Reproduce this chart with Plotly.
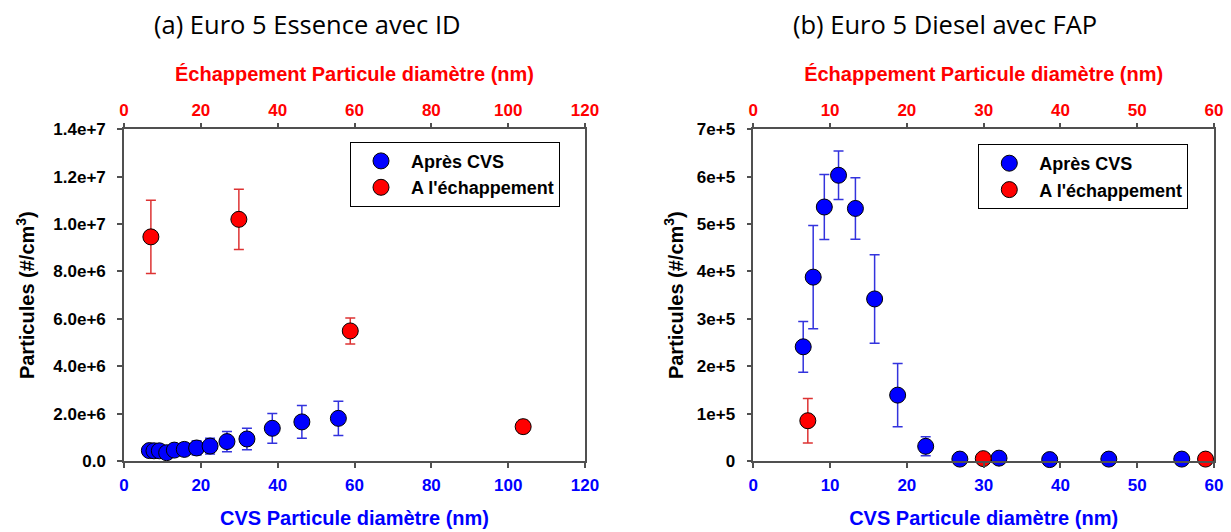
import plotly.graph_objects as go

# ---------------- data ----------------
# (a) Euro 5 Essence avec ID
a_cvs_x = [6.6, 7.8, 9.2, 11.1, 13.1, 15.7, 18.9, 22.4, 26.8, 32.0, 38.6, 46.3, 55.8]
a_cvs_y = [0.44e6, 0.43e6, 0.43e6, 0.35e6, 0.46e6, 0.49e6, 0.55e6, 0.63e6, 0.82e6, 0.93e6, 1.38e6, 1.65e6, 1.80e6]
a_cvs_err = [0.05e6, 0.06e6, 0.08e6, 0.08e6, 0.12e6, 0.26e6, 0.30e6, 0.33e6, 0.43e6, 0.45e6, 0.63e6, 0.69e6, 0.72e6]
a_ech_x = [7.0, 29.9, 58.9, 103.9]
a_ech_y = [9.46e6, 10.2e6, 5.49e6, 1.45e6]
a_ech_err = [1.55e6, 1.27e6, 0.55e6, 0.27e6]

# (b) Euro 5 Diesel avec FAP
b_cvs_x = [6.5, 7.8, 9.25, 11.1, 13.3, 15.8, 18.8, 22.45, 26.9, 32.0, 38.6, 46.3, 55.8]
b_cvs_y = [2.41e5, 3.88e5, 5.36e5, 6.03e5, 5.33e5, 3.42e5, 1.39e5, 0.31e5, 0.04e5, 0.06e5, 0.03e5, 0.04e5, 0.04e5]
b_cvs_err = [0.535e5, 1.09e5, 0.685e5, 0.51e5, 0.65e5, 0.935e5, 0.665e5, 0.20e5, 0, 0, 0, 0, 0]
b_ech_x = [7.1, 29.95, 58.9]
b_ech_y = [0.85e5, 0.05e5, 0.04e5]
b_ech_err = [0.47e5, 0, 0]

a_yticks = [0, 2e6, 4e6, 6e6, 8e6, 1e7, 1.2e7, 1.4e7]
a_yticktext = ["0.0", "2.0e+6", "4.0e+6", "6.0e+6", "8.0e+6", "1.0e+7", "1.2e+7", "1.4e+7"]
b_yticks = [0, 1e5, 2e5, 3e5, 4e5, 5e5, 6e5, 7e5]
b_yticktext = ["0", "1e+5", "2e+5", "3e+5", "4e+5", "5e+5", "6e+5", "7e+5"]
a_xticks = [0, 20, 40, 60, 80, 100, 120]
b_xticks = [0, 10, 20, 30, 40, 50, 60]

names = ["Après CVS", "A l'échappement"]
titles = ["(a) Euro 5 Essence avec ID", "(b) Euro 5 Diesel avec FAP"]
xtitle_bottom = "CVS Particule diamètre (nm)"
xtitle_top = "Échappement Particule diamètre (nm)"
ytitle = "Particules (#/cm<sup>3</sup>)"

# ---------------- style ----------------
W, H = 1231, 532
BLUE = "#0000ff"
RED = "#ff0000"
BLUE_ERR = "#3333dd"
RED_ERR = "#dd3333"
AXC = "#505050"
FONT = "Liberation Sans, Arial, sans-serif"

def px_x(p):
    return p / W

def px_y(p):
    return (H - p) / H

ydom = [px_y(461), px_y(129.3)]
dom_a = [px_x(124), px_x(585)]
dom_b = [px_x(753.3), px_x(1214)]

marker_common = dict(size=16, line=dict(color="black", width=1))

def err(arr, color):
    return dict(type="data", array=arr, visible=True, color=color, thickness=1.5, width=5)

fig = go.Figure()
fig.add_trace(go.Scatter(x=a_cvs_x, y=a_cvs_y, mode="markers", name=names[0],
                         marker=dict(color=BLUE, **marker_common), error_y=err(a_cvs_err, BLUE_ERR),
                         xaxis="x", yaxis="y", legend="legend", cliponaxis=False))
fig.add_trace(go.Scatter(x=a_ech_x, y=a_ech_y, mode="markers", name=names[1],
                         marker=dict(color=RED, **marker_common), error_y=err(a_ech_err, RED_ERR),
                         xaxis="x2", yaxis="y", legend="legend", cliponaxis=False))
fig.add_trace(go.Scatter(x=b_cvs_x, y=b_cvs_y, mode="markers", name=names[0],
                         marker=dict(color=BLUE, **marker_common), error_y=err(b_cvs_err, BLUE_ERR),
                         xaxis="x3", yaxis="y2", legend="legend2", cliponaxis=False))
fig.add_trace(go.Scatter(x=b_ech_x, y=b_ech_y, mode="markers", name=names[1],
                         marker=dict(color=RED, **marker_common), error_y=err(b_ech_err, RED_ERR),
                         xaxis="x4", yaxis="y2", legend="legend2", cliponaxis=False))

tick_common = dict(ticks="outside", ticklen=5, tickwidth=1.5, tickcolor=AXC, showline=True,
                   linecolor=AXC, linewidth=1.5, showgrid=False, zeroline=False, automargin=False)

def xb(dom, rng, ticks, anchor):
    return dict(domain=dom, range=rng, anchor=anchor, side="bottom", tickvals=ticks,
                tickfont=dict(family=FONT, size=17, color=BLUE, weight="bold"),
                ticklabelstandoff=3,
                title=dict(text=xtitle_bottom, font=dict(family=FONT, size=20, color=BLUE, weight="bold"), standoff=17),
                **tick_common)

def xt(over, rng, ticks, anchor):
    return dict(overlaying=over, range=rng, anchor=anchor, side="top", tickvals=ticks,
                tickfont=dict(family=FONT, size=17, color=RED, weight="bold"),
                ticklabelstandoff=0,
                title=dict(text=xtitle_top, font=dict(family=FONT, size=20, color=RED, weight="bold"), standoff=14),
                **tick_common)

def yl(rng, ticks, text, anchor, standoff):
    return dict(domain=ydom, range=rng, anchor=anchor, tickvals=ticks, ticktext=text, mirror=True,
                tickfont=dict(family=FONT, size=17, color="black", weight="bold"),
                ticklabelstandoff=8,
                title=dict(text=ytitle, font=dict(family=FONT, size=20, color="black", weight="bold"), standoff=standoff),
                **tick_common)

legend_common = dict(bordercolor="black", borderwidth=1, bgcolor="white",
                     font=dict(family=FONT, size=18, color="black", weight="bold"),
                     xanchor="left", yanchor="top", itemwidth=50, tracegroupgap=0)

fig.update_layout(
    width=W, height=H,
    margin=dict(l=0, r=0, t=0, b=0, pad=0, autoexpand=False),
    paper_bgcolor="white", plot_bgcolor="white",
    xaxis=xb(dom_a, [0, 120], a_xticks, "y"),
    xaxis2=xt("x", [0, 120], a_xticks, "y"),
    yaxis=yl([0, 1.4e7], a_yticks, a_yticktext, "x", 13),
    xaxis3=xb(dom_b, [0, 60], b_xticks, "y2"),
    xaxis4=xt("x3", [0, 60], b_xticks, "y2"),
    yaxis2=yl([0, 7e5], b_yticks, b_yticktext, "x3", 8),
    legend=dict(x=px_x(350), y=px_y(141.7), **legend_common),
    legend2=dict(x=px_x(978.3), y=px_y(144), **legend_common),
    showlegend=True,
    annotations=[
        dict(text=titles[0], x=px_x(307), y=px_y(24.5), xref="paper", yref="paper", showarrow=False,
             xanchor="center", yanchor="middle", font=dict(family="Open Sans, sans-serif", size=25.5, color="black")),
        dict(text=titles[1], x=px_x(945), y=px_y(24.5), xref="paper", yref="paper", showarrow=False,
             xanchor="center", yanchor="middle", font=dict(family="Open Sans, sans-serif", size=25.5, color="black")),
    ],
)

fig.write_html("out.html", config={"displayModeBar": False},
               post_script="document.body.style.margin='0';")
